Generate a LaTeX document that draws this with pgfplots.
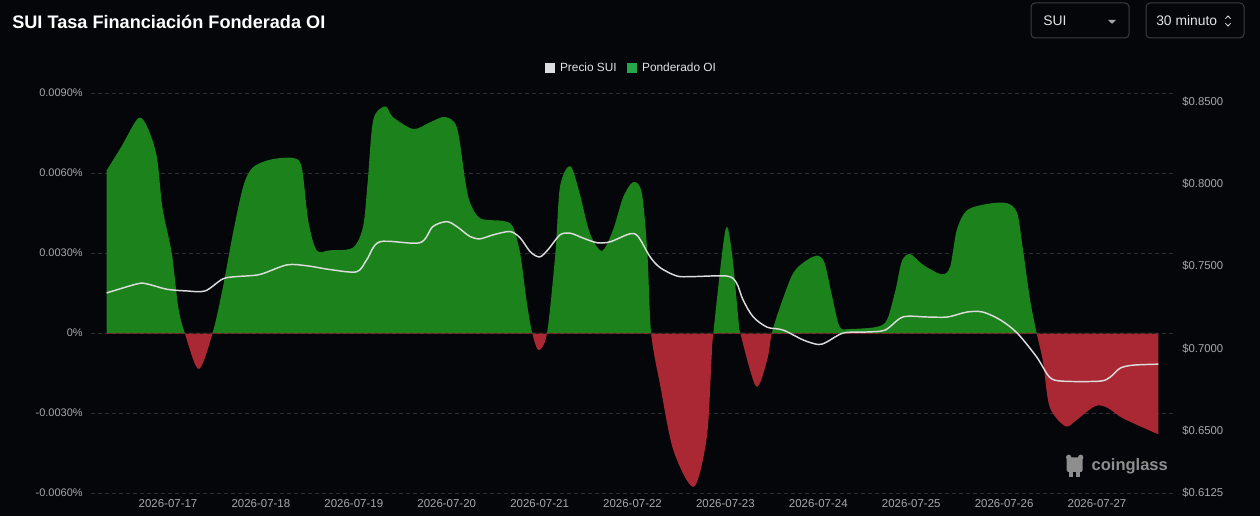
\documentclass[border=0pt]{standalone}
\usepackage{pgfplots}
\usepackage{pgfplotstable}
\pgfplotsset{compat=1.18}
\usepackage{fontspec}
\setmainfont{Liberation Sans}
\definecolor{bg}{HTML}{05060A}
\definecolor{posgreen}{HTML}{1C821C}
\definecolor{negred}{HTML}{A92834}
\definecolor{pricecol}{HTML}{DCDCDC}
\definecolor{gridcol}{HTML}{2C2F36}
\definecolor{tickcol}{HTML}{A8A8A8}
\definecolor{legtext}{HTML}{E2E2E2}
\definecolor{legwhite}{HTML}{DCDDE1}
\definecolor{leggreen}{HTML}{26A84A}
\definecolor{boxcol}{HTML}{3A3D45}
\definecolor{wmcol}{HTML}{8E8E8E}

\pgfplotstableread{
x u
16.34 61
16.50 70
16.68 80.6
16.78 77
16.88 66
16.94 47
17.04 30
17.11 9.8
17.18 0
17.33 -13.5
17.48 0
17.59 17
17.70 37.5
17.81 55
17.91 62
18.10 65
18.35 65.6
18.44 62
18.51 42
18.60 31
18.74 31
18.99 32
19.10 40
19.15 57
19.21 80
19.34 85
19.42 81
19.64 76.5
19.82 79
19.98 81
20.11 77
20.20 57
20.25 49
20.36 43
20.61 42
20.71 40
20.79 30
20.86 12
20.92 0
20.99 -6.4
21.08 0
21.17 30
21.22 55
21.33 62.6
21.43 52.5
21.54 37.5
21.67 30.8
21.79 38.6
21.90 51
22.01 56.6
22.10 52.5
22.16 30
22.20 0
22.30 -20
22.44 -44
22.66 -57.7
22.80 -39
22.85 -10
22.87 0
23.00 38.6
23.07 30
23.14 5
23.16 0
23.33 -20
23.45 -10
23.50 0
23.59 10
23.73 22.5
23.88 27.4
24.00 29
24.07 26
24.15 13.5
24.23 2.3
24.34 1.5
24.63 2.3
24.74 5
24.83 16
24.90 27
24.99 29.6
25.13 25.5
25.33 22
25.42 25
25.49 38.6
25.60 46
25.82 48.4
26.03 48.7
26.14 45
26.20 32
26.28 12.4
26.35 0
26.42 -11
26.49 -27.7
26.66 -35
26.78 -32.6
26.98 -27.4
27.11 -28
27.28 -32
27.66 -38
}\funding

\pgfplotstableread{
x p
16.34 0.7338
16.67 0.7393
16.77 0.7393
16.99 0.7360
17.20 0.7350
17.40 0.7350
17.59 0.7423
17.74 0.7437
17.99 0.7450
18.28 0.7508
18.50 0.7502
18.74 0.7480
19.03 0.7466
19.14 0.7540
19.28 0.7648
19.71 0.7642
19.85 0.7740
20.00 0.7770
20.11 0.7740
20.25 0.7680
20.36 0.7666
20.50 0.7690
20.68 0.7710
20.79 0.7672
20.90 0.7587
21.00 0.7556
21.09 0.7600
21.22 0.7690
21.33 0.7700
21.47 0.7670
21.62 0.7642
21.76 0.7648
21.97 0.7696
22.06 0.7680
22.19 0.7556
22.30 0.7490
22.48 0.7440
22.65 0.7437
23.02 0.7440
23.12 0.7398
23.19 0.7295
23.30 0.7192
23.45 0.7130
23.62 0.7113
23.84 0.7052
24.00 0.7025
24.09 0.7040
24.27 0.7095
24.52 0.7101
24.72 0.7113
24.91 0.7192
25.17 0.7192
25.39 0.7192
25.60 0.7222
25.77 0.7222
25.96 0.7174
26.14 0.7095
26.35 0.6950
26.49 0.6827
26.63 0.6803
27.03 0.6803
27.14 0.6827
27.25 0.6882
27.39 0.6900
27.66 0.6906
}\price

\begin{document}
\begin{tikzpicture}
\fill[bg] (0,0) rectangle (945pt,387pt);
\useasboundingbox (0,0) rectangle (945pt,387pt);

% title
\node[anchor=base west, inner sep=0pt, text=white, font=\bfseries\fontsize{13.6}{16}\selectfont] at (9pt,365.25pt) {SUI Tasa Financiación Fonderada OI};

% selector boxes
\draw[boxcol, line width=0.75pt, rounded corners=3pt] (773.25pt,358.5pt) rectangle (846.75pt,384.75pt);
\node[anchor=west, inner sep=0pt, text=legtext, font=\fontsize{10.4}{12}\selectfont] at (782.25pt,371.4pt) {SUI};
\fill[tickcol] (831pt,372pt) -- (837pt,372pt) -- (834pt,369.2pt) -- cycle;
\draw[boxcol, line width=0.75pt, rounded corners=3pt] (859.5pt,358.5pt) rectangle (933pt,384.75pt);
\node[anchor=west, inner sep=0pt, text=legtext, font=\fontsize{10.4}{12}\selectfont] at (867pt,371.4pt) {30 minuto};
\draw[legtext, line width=0.6pt] (919pt,372.9pt) -- (921pt,375pt) -- (923pt,372.9pt);
\draw[legtext, line width=0.6pt] (919pt,369.6pt) -- (921pt,367.5pt) -- (923pt,369.6pt);

% watermark
\fill[wmcol, rounded corners=1.5pt] (800pt,33pt) rectangle (812pt,44pt);
\fill[wmcol] (801.5pt,44pt) circle (2pt);
\fill[wmcol] (810.5pt,44pt) circle (2pt);
\fill[wmcol] (802pt,29pt) rectangle (805pt,33pt);
\fill[wmcol] (807pt,29pt) rectangle (810pt,33pt);
\node[anchor=west, inner sep=0pt, text=wmcol, font=\bfseries\fontsize{12.4}{15}\selectfont] at (818.5pt,37pt) {coinglass};

% frame axis: grid, ticks, legend
\begin{axis}[
  at={(68.25pt,17.25pt)}, anchor=south west,
  scale only axis, width=811.5pt, height=300pt,
  xmin=16.171, xmax=27.818, ymin=-60, ymax=90,
  xtick={17,18,19,20,21,22,23,24,25,26,27},
  xticklabels={2026-07-17,2026-07-18,2026-07-19,2026-07-20,2026-07-21,2026-07-22,2026-07-23,2026-07-24,2026-07-25,2026-07-26,2026-07-27},
  ytick={-60,-30,0,30,60,90},
  yticklabels={-0.0060\%,-0.0030\%,0\%,0.0030\%,0.0060\%,0.0090\%},
  axis line style={draw=none},
  major tick length=0pt,
  tick style={draw=none},
  ymajorgrids,
  grid style={gridcol, line width=0.6pt, dash pattern=on 3pt off 2.25pt},
  yticklabel style={text=tickcol, font=\fontsize{8.25}{10}\selectfont, inner sep=0pt, xshift=-6pt},
  xticklabel style={text=tickcol, font=\fontsize{8.6}{10}\selectfont, inner sep=0pt, yshift=-5pt},
  legend style={at={(0.5,1.0625)}, anchor=center, draw=none, fill=none, text=legtext,
    font=\fontsize{8.9}{10}\selectfont, legend columns=2,
    /tikz/every odd column/.append style={column sep=1.5pt},
    /tikz/every even column/.append style={column sep=6pt}},
  legend cell align=left,
]
\addlegendimage{fill=legwhite, draw=none, legend image code/.code={\fill (0pt,-3.75pt) rectangle (7.5pt,3.75pt);}}
\addlegendentry{Precio SUI}
\addlegendimage{fill=leggreen, draw=none, legend image code/.code={\fill (0pt,-3.75pt) rectangle (7.5pt,3.75pt);}}
\addlegendentry{Ponderado OI}
\end{axis}

% negative part (clipped by its axis box, y from -60 to just below 0)
\begin{axis}[
  at={(68.25pt,17.25pt)}, anchor=south west,
  scale only axis, width=811.5pt, height=119.5pt,
  xmin=16.171, xmax=27.818, ymin=-60, ymax=-0.25,
  hide axis,
]
\addplot[fill=negred, draw=none, smooth, tension=0.5] table[x=x, y=u] {\funding} \closedcycle;
\end{axis}

% positive part (clipped by its axis box, y from 0 to 90)
\begin{axis}[
  at={(68.25pt,137.25pt)}, anchor=south west,
  scale only axis, width=811.5pt, height=180pt,
  xmin=16.171, xmax=27.818, ymin=0, ymax=90,
  hide axis,
]
\addplot[fill=posgreen, draw=none, smooth, tension=0.5] table[x=x, y=u] {\funding} \closedcycle;
\end{axis}

% price axis (right)
\begin{axis}[
  at={(68.25pt,17.25pt)}, anchor=south west,
  scale only axis, width=811.5pt, height=300pt,
  xmin=16.171, xmax=27.818, ymin=0.6125, ymax=0.855,
  axis x line=none, axis y line*=right,
  axis line style={draw=none},
  major tick length=0pt, tick style={draw=none},
  ytick={0.6125,0.65,0.70,0.75,0.80,0.85},
  yticklabels={\$0.6125,\$0.6500,\$0.7000,\$0.7500,\$0.8000,\$0.8500},
  yticklabel style={text=tickcol, font=\fontsize{8.5}{10}\selectfont, inner sep=0pt, xshift=6.75pt, anchor=west},
]
\addplot[pricecol, line width=1.1pt, smooth, tension=0.5] table[x=x, y=p] {\price};
\end{axis}
\end{tikzpicture}
\end{document}
